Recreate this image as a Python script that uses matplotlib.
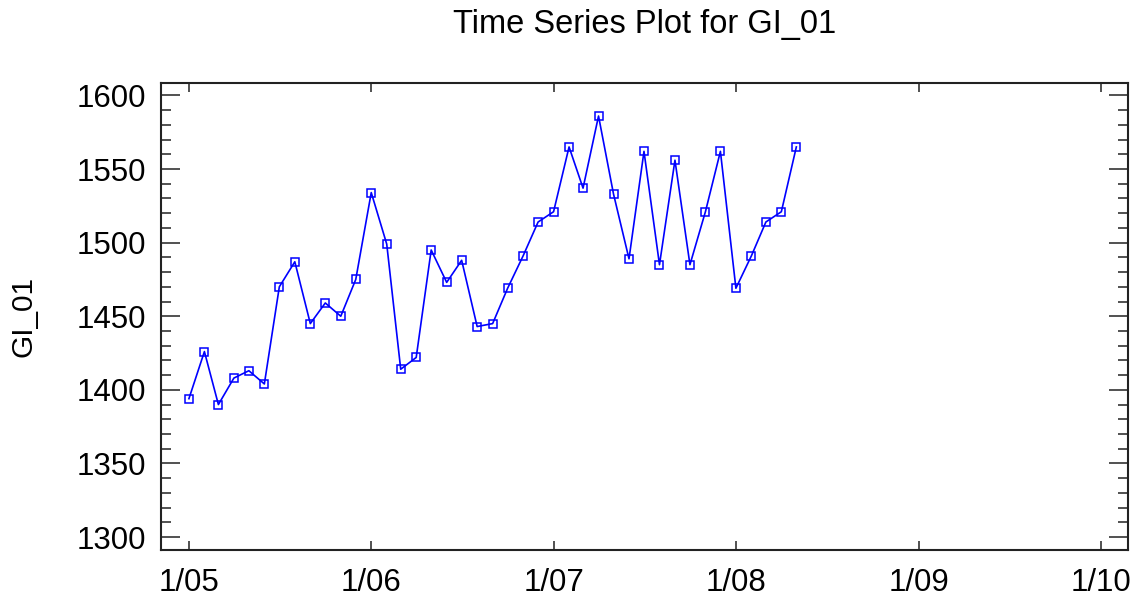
import matplotlib
matplotlib.use("Agg")
import matplotlib.pyplot as plt
import matplotlib.dates as mdates
from matplotlib.ticker import MultipleLocator, FuncFormatter
import pandas as pd

plt.rcParams['font.family'] = ['Liberation Sans', 'DejaVu Sans']

# monthly GI_01 readings, Jan 2005 .. May 2008
gi_01 = [1394, 1426, 1390, 1408, 1413, 1404, 1470, 1487, 1445, 1459,
         1450, 1475, 1534, 1499, 1414, 1422, 1495, 1473, 1488, 1443,
         1445, 1469, 1491, 1514, 1521, 1565, 1537, 1586, 1533, 1489,
         1562, 1485, 1556, 1485, 1521, 1562, 1469, 1491, 1514, 1521,
         1565]
start_month = "2005-01-01"
year_ticks = ["2005-01-01", "2006-01-01", "2007-01-01", "2008-01-01",
              "2009-01-01", "2010-01-01"]

dates = pd.date_range(start_month, periods=len(gi_01), freq="MS")

fig = plt.figure(figsize=(11.48, 5.97), dpi=100)
ax = fig.add_axes([0.1402, 0.0787, 0.8424, 0.7822])

ax.plot(dates, gi_01, color="#0000ff", lw=1.2, marker="s", ms=5.5,
        mfc="none", mec="#0000ff", mew=1.1)

ax.set_xlim(pd.Timestamp("2004-11-06"), pd.Timestamp("2010-02-24"))
ax.set_ylim(1291.2, 1608.4)

ax.set_xticks(pd.to_datetime(year_ticks))
ax.xaxis.set_major_formatter(
    FuncFormatter(lambda v, _: "%d/%s" % (mdates.num2date(v).month,
                                          mdates.num2date(v).strftime("%y"))))
ax.yaxis.set_major_locator(MultipleLocator(50))
ax.yaxis.set_minor_locator(MultipleLocator(10))

ax.tick_params(axis="x", which="major", direction="in", top=True,
               length=6.5, width=1.1, pad=13, labelsize=22.5, color="#222222")
ax.tick_params(axis="y", which="major", direction="in", right=True,
               length=13.5, width=1.1, pad=11, labelsize=22.5, color="#222222")
ax.tick_params(axis="y", which="minor", direction="in", right=True,
               length=7, width=1.1, color="#222222")
for s in ax.spines.values():
    s.set_linewidth(1.5)
    s.set_color("#222222")

ax.set_ylabel("GI_01", fontsize=21.5, labelpad=28)
fig.suptitle("Time Series Plot for GI_01", x=0.5615, y=0.985, fontsize=23.5)

fig.savefig("out.png", dpi=100)
